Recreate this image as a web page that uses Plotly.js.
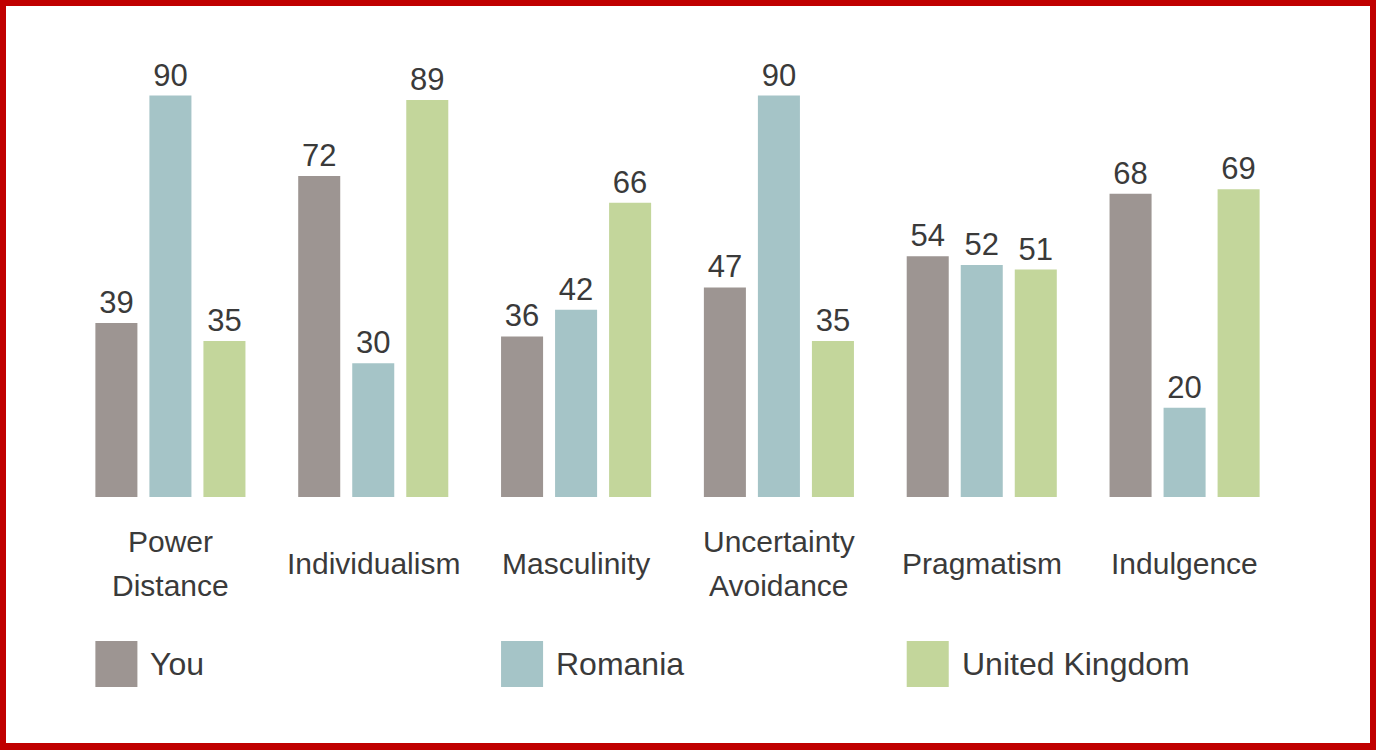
<!DOCTYPE html>
<html>
<head>
<meta charset="utf-8">
<script src="https://cdn.plot.ly/plotly-3.0.1.min.js"></script>
<style>
  body { margin: 0; background: #fff; }
  #wrap { position: relative; width: 1376px; height: 750px; }
  #chart { width: 1376px; height: 750px; }
  #frame {
    position: absolute; left: 0; top: 0; width: 1376px; height: 750px;
    box-sizing: border-box; border: 6px solid #c00000; border-bottom-width: 7px;
    pointer-events: none;
  }
</style>
</head>
<body>
<div id="wrap">
  <div id="chart"></div>
  <div id="frame"></div>
</div>
<script>
const categories = ['Power Distance', 'Individualism', 'Masculinity', 'Uncertainty Avoidance', 'Pragmatism', 'Indulgence'];
const categoryLines = [['Power', 'Distance'], ['Individualism'], ['Masculinity'], ['Uncertainty', 'Avoidance'], ['Pragmatism'], ['Indulgence']];
const seriesNames = ['You', 'Romania', 'United Kingdom'];
const youValues = [39, 72, 36, 47, 54, 68];
const romaniaValues = [90, 30, 42, 90, 52, 20];
const ukValues = [35, 89, 66, 35, 51, 69];
const seriesColors = ['#9d9592', '#a5c4c7', '#c3d69b'];
const legendSlots = [0, 2, 4]; // category under which each legend entry starts

const textColor = '#3a3a3a';
const font = "'Liberation Sans', Arial, sans-serif";
const bargap = 0.201;
const bargroupgap = 0.222;

const allValues = [youValues, romaniaValues, ukValues];
const traces = allValues.map((vals, i) => ({
  type: 'bar',
  name: seriesNames[i],
  x: categories.map((c, k) => k),
  y: vals,
  marker: { color: seriesColors[i] },
  text: vals.map(String),
  textposition: 'outside',
  textfont: { family: font, size: 31, color: textColor },
  cliponaxis: false,
  hoverinfo: 'skip'
}));

const annotations = [];
categoryLines.forEach((lines, k) => {
  const lineGap = 44;
  const center = -66;
  lines.forEach((ln, j) => {
    annotations.push({
      x: k, xref: 'x', y: 0, yref: 'paper',
      text: ln, showarrow: false,
      xanchor: 'center', yanchor: 'middle',
      yshift: center - (j - (lines.length - 1) / 2) * lineGap,
      font: { family: font, size: 30, color: textColor }
    });
  });
});

// legend drawn under the chart, aligned with the first bar of some groups
const slot = (1 - bargap) / 3;
const barW = slot * (1 - bargroupgap);
const shapes = [];
legendSlots.forEach((c, i) => {
  const x0 = c - (1 - bargap) / 2 + slot * bargroupgap / 2;
  shapes.push({
    type: 'rect', xref: 'x', yref: 'paper',
    x0: x0, x1: x0 + barW, y0: -0.426, y1: -0.3229,
    fillcolor: seriesColors[i], line: { width: 0 }
  });
  annotations.push({
    x: x0 + barW, xref: 'x', y: -0.3744, yref: 'paper',
    text: seriesNames[i], showarrow: false,
    xanchor: 'left', yanchor: 'middle', xshift: 11,
    font: { family: font, size: 32, color: textColor }
  });
});

Plotly.newPlot('chart', traces, {
  width: 1376, height: 750,
  margin: { l: 69, r: 90, t: 51, b: 253 },
  paper_bgcolor: '#fff', plot_bgcolor: '#fff',
  barmode: 'group', bargap: bargap, bargroupgap: bargroupgap,
  showlegend: false,
  xaxis: { range: [-0.5, 5.5], showticklabels: false, showgrid: false, zeroline: false, showline: false, ticks: '' },
  yaxis: { range: [0, 100], visible: false, showgrid: false, zeroline: false },
  annotations: annotations,
  shapes: shapes
}, { displayModeBar: false, staticPlot: true });
</script>
</body>
</html>
